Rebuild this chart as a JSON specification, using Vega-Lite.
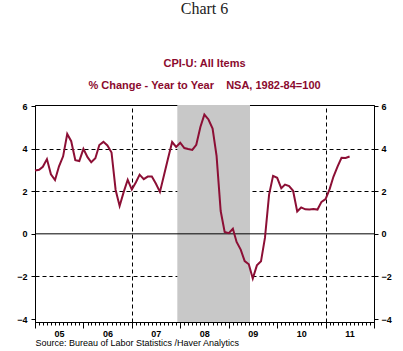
{
  "$schema": "https://vega.github.io/schema/vega-lite/v6.json",
  "width": 339,
  "height": 217,
  "autosize": "none",
  "padding": {"left": 35, "top": 105, "right": 29, "bottom": 29},
  "background": "white",
  "config": {
    "view": {"stroke": "black", "strokeWidth": 1},
    "font": "Liberation Sans",
    "axis": {"labelFont": "Liberation Sans", "labelFontWeight": "bold", "labelFontSize": 9, "labelColor": "black", "tickColor": "black", "domainColor": "black"}
  },
  "title": {
    "text": "Chart 6",
    "subtitle": ["CPI-U: All Items", "% Change - Year to Year\u00a0\u00a0\u00a0\u00a0NSA, 1982-84=100"],
    "font": "Liberation Serif",
    "fontSize": 16,
    "fontWeight": "normal",
    "color": "#222222",
    "subtitleFont": "Liberation Sans",
    "subtitleFontSize": 11,
    "subtitleFontWeight": "bold",
    "subtitleColor": "#8B0A2E",
    "subtitleLineHeight": 22,
    "subtitlePadding": 41,
    "offset": 11,
    "anchor": "middle"
  },
  "datasets": {
    "cpi": [
      {"date": "2005-01-01", "v": 2.97}, {"date": "2005-02-01", "v": 3.01}, {"date": "2005-03-01", "v": 3.15}, {"date": "2005-04-01", "v": 3.51},
      {"date": "2005-05-01", "v": 2.80}, {"date": "2005-06-01", "v": 2.53}, {"date": "2005-07-01", "v": 3.17}, {"date": "2005-08-01", "v": 3.64},
      {"date": "2005-09-01", "v": 4.69}, {"date": "2005-10-01", "v": 4.35}, {"date": "2005-11-01", "v": 3.46}, {"date": "2005-12-01", "v": 3.42},
      {"date": "2006-01-01", "v": 3.99}, {"date": "2006-02-01", "v": 3.60}, {"date": "2006-03-01", "v": 3.36}, {"date": "2006-04-01", "v": 3.55},
      {"date": "2006-05-01", "v": 4.17}, {"date": "2006-06-01", "v": 4.32}, {"date": "2006-07-01", "v": 4.15}, {"date": "2006-08-01", "v": 3.82},
      {"date": "2006-09-01", "v": 2.06}, {"date": "2006-10-01", "v": 1.31}, {"date": "2006-11-01", "v": 1.97}, {"date": "2006-12-01", "v": 2.54},
      {"date": "2007-01-01", "v": 2.08}, {"date": "2007-02-01", "v": 2.42}, {"date": "2007-03-01", "v": 2.78}, {"date": "2007-04-01", "v": 2.57},
      {"date": "2007-05-01", "v": 2.69}, {"date": "2007-06-01", "v": 2.69}, {"date": "2007-07-01", "v": 2.36}, {"date": "2007-08-01", "v": 1.97},
      {"date": "2007-09-01", "v": 2.76}, {"date": "2007-10-01", "v": 3.54}, {"date": "2007-11-01", "v": 4.31}, {"date": "2007-12-01", "v": 4.08},
      {"date": "2008-01-01", "v": 4.28}, {"date": "2008-02-01", "v": 4.03}, {"date": "2008-03-01", "v": 3.98}, {"date": "2008-04-01", "v": 3.94},
      {"date": "2008-05-01", "v": 4.18}, {"date": "2008-06-01", "v": 5.02}, {"date": "2008-07-01", "v": 5.60}, {"date": "2008-08-01", "v": 5.37},
      {"date": "2008-09-01", "v": 4.94}, {"date": "2008-10-01", "v": 3.66}, {"date": "2008-11-01", "v": 1.07}, {"date": "2008-12-01", "v": 0.09},
      {"date": "2009-01-01", "v": 0.03}, {"date": "2009-02-01", "v": 0.24}, {"date": "2009-03-01", "v": -0.38}, {"date": "2009-04-01", "v": -0.74},
      {"date": "2009-05-01", "v": -1.28}, {"date": "2009-06-01", "v": -1.43}, {"date": "2009-07-01", "v": -2.10}, {"date": "2009-08-01", "v": -1.48},
      {"date": "2009-09-01", "v": -1.29}, {"date": "2009-10-01", "v": -0.18}, {"date": "2009-11-01", "v": 1.84}, {"date": "2009-12-01", "v": 2.72},
      {"date": "2010-01-01", "v": 2.63}, {"date": "2010-02-01", "v": 2.14}, {"date": "2010-03-01", "v": 2.31}, {"date": "2010-04-01", "v": 2.24},
      {"date": "2010-05-01", "v": 2.02}, {"date": "2010-06-01", "v": 1.05}, {"date": "2010-07-01", "v": 1.24}, {"date": "2010-08-01", "v": 1.15},
      {"date": "2010-09-01", "v": 1.14}, {"date": "2010-10-01", "v": 1.17}, {"date": "2010-11-01", "v": 1.14}, {"date": "2010-12-01", "v": 1.50},
      {"date": "2011-01-01", "v": 1.63}, {"date": "2011-02-01", "v": 2.11}, {"date": "2011-03-01", "v": 2.68}, {"date": "2011-04-01", "v": 3.16},
      {"date": "2011-05-01", "v": 3.57}, {"date": "2011-06-01", "v": 3.56}, {"date": "2011-07-01", "v": 3.63}
    ],
    "rec": [{"start": "2007-12-10", "end": "2009-06-10"}],
    "zero": [{"y": 0}]
  },
  "layer": [
    {
      "data": {"name": "rec"},
      "mark": {"type": "rect", "color": "#C8C8C8"},
      "encoding": {
        "x": {
          "field": "start", "type": "temporal",
          "scale": {"type": "utc", "domain": [{"year": 2005, "month": 1, "date": 1, "utc": true}, {"year": 2012, "month": 1, "date": 1, "utc": true}]},
          "axis": {
            "orient": "bottom", "title": null, "labels": false, "domain": false,
            "tickCount": {"interval": "year", "step": 1}, "tickSize": 6,
            "grid": true, "gridColor": "black", "gridDash": [4, 3], "gridWidth": 1,
            "gridOpacity": {"condition": {"test": "utcyear(datum.value) % 2 == 1", "value": 1}, "value": 0}
          }
        },
        "x2": {"field": "end"}
      }
    },
    {
      "data": {"name": "zero"},
      "mark": {"type": "rule", "color": "black", "strokeWidth": 1},
      "encoding": {
        "y": {
          "field": "y", "type": "quantitative",
          "scale": {"domain": [-4.14, 6.05], "nice": false, "zero": false},
          "axis": {
            "orient": "left", "title": null, "values": [-4, -2, 0, 2, 4, 6], "tickSize": 4, "labelPadding": 4,
            "grid": true, "gridColor": "black", "gridDash": [4, 3],
            "gridOpacity": {"condition": {"test": "datum.value == 2 || datum.value == 4 || datum.value == -2", "value": 1}, "value": 0}
          }
        }
      }
    },
    {
      "data": {"name": "cpi"},
      "mark": {"type": "line", "color": "#8C0F35", "strokeWidth": 2},
      "encoding": {
        "x": {
          "field": "date", "type": "temporal",
          "axis": {
            "orient": "bottom", "grid": false, "tickCount": {"interval": "month", "step": 1}, "tickSize": 3,
            "labelExpr": "utcmonth(datum.value) == 6 ? utcFormat(datum.value, '%y') : ''",
            "labelOverlap": false, "labelBound": false, "labelFlush": false, "labelPadding": 4,
            "title": "Source:  Bureau of Labor Statistics /Haver Analytics",
            "titleFont": "Liberation Sans", "titleFontSize": 9, "titleFontWeight": "normal", "titleColor": "black",
            "titleAnchor": "start", "titlePadding": 0
          }
        },
        "y": {
          "field": "v", "type": "quantitative",
          "axis": {"orient": "right", "title": null, "values": [-4, -2, 0, 2, 4, 6], "tickSize": 4, "labelPadding": 3, "grid": false}
        }
      }
    }
  ],
  "resolve": {"axis": {"x": "independent", "y": "independent"}}
}
